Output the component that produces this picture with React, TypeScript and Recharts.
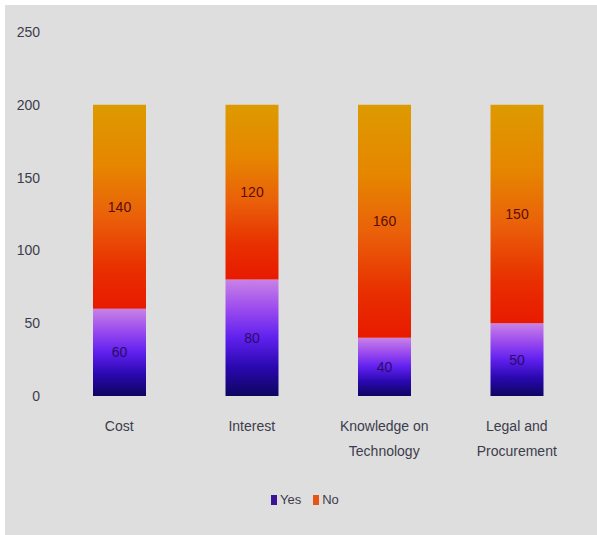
import React from "react";
import { BarChart, Bar, XAxis, YAxis, Legend, LabelList } from "recharts";

// Survey responses per barrier category
const categories = ["Cost", "Interest", "Knowledge on\nTechnology", "Legal and\nProcurement"];
const yesValues = [60, 80, 40, 50];
const noValues = [140, 120, 160, 150];
const yTicks = [0, 50, 100, 150, 200, 250];

const data = categories.map((name, i) => ({ name, Yes: yesValues[i], No: noValues[i] }));

const FONT = '"Liberation Sans", Arial, sans-serif';
const TEXT = "#3c3c4c";

const CategoryTick = (props: any) => {
  const { x, y, payload } = props;
  const lines = String(payload.value).split("\n");
  return (
    <text x={x} y={y} textAnchor="middle" fill={TEXT} fontFamily={FONT} fontSize={14}>
      {lines.map((line: string, i: number) => (
        <tspan key={i} x={x} dy={i === 0 ? 35 : 25}>
          {line}
        </tspan>
      ))}
    </text>
  );
};

const LegendContent = () => (
  <div style={{ display: "flex", alignItems: "center", fontFamily: FONT, fontSize: 13, color: TEXT }}>
    <span style={{ width: 6, height: 10, background: "#3a1594", display: "inline-block", marginRight: 3 }} />
    <span style={{ marginRight: 12 }}>Yes</span>
    <span style={{ width: 6, height: 10, background: "#e85414", display: "inline-block", marginRight: 3 }} />
    <span>No</span>
  </div>
);

export default function App() {
  return (
    <div style={{ position: "absolute", left: 0, top: 0, width: 597, height: 535, background: "#ffffff" }}>
      <div style={{ position: "absolute", left: 5, top: 5, width: 592, height: 530, background: "#dedede" }}>
        <BarChart
          width={592}
          height={530}
          data={data}
          margin={{ top: 27, right: 14, bottom: 0, left: 0 }}
          barSize={53}
        >
          <defs>
            <linearGradient id="gradYes" x1="0" y1="0" x2="0" y2="1">
              <stop offset="0%" stopColor="#c982e6" />
              <stop offset="25%" stopColor="#9c4cee" />
              <stop offset="50%" stopColor="#6020ee" />
              <stop offset="75%" stopColor="#2a08b0" />
              <stop offset="100%" stopColor="#0e0560" />
            </linearGradient>
            <linearGradient id="gradNo" x1="0" y1="0" x2="0" y2="1">
              <stop offset="0%" stopColor="#dd9a00" />
              <stop offset="30%" stopColor="#e68600" />
              <stop offset="55%" stopColor="#ea600a" />
              <stop offset="80%" stopColor="#e83000" />
              <stop offset="100%" stopColor="#e81a00" />
            </linearGradient>
          </defs>
          <XAxis
            dataKey="name"
            axisLine={false}
            tickLine={false}
            tickSize={0}
            tickMargin={0}
            height={139}
            interval={0}
            tick={<CategoryTick />}
          />
          <YAxis
            domain={[0, 250]}
            ticks={yTicks}
            axisLine={false}
            tickLine={false}
            tickSize={0}
            tickMargin={13}
            width={48}
            tick={{ fill: TEXT, fontFamily: FONT, fontSize: 14 }}
          />
          <Legend
            verticalAlign="middle"
            layout="horizontal"
            align="center"
            content={<LegendContent />}
            wrapperStyle={{ top: 487, left: 266, width: "auto" }}
          />
          <Bar dataKey="Yes" stackId="a" fill="url(#gradYes)" isAnimationActive={false}>
            <LabelList dataKey="Yes" position="center" fill="#2a0c66" fontFamily={FONT} fontSize={14} />
          </Bar>
          <Bar dataKey="No" stackId="a" fill="url(#gradNo)" isAnimationActive={false}>
            <LabelList dataKey="No" position="center" fill="#5c0c08" fontFamily={FONT} fontSize={14} />
          </Bar>
        </BarChart>
      </div>
    </div>
  );
}
